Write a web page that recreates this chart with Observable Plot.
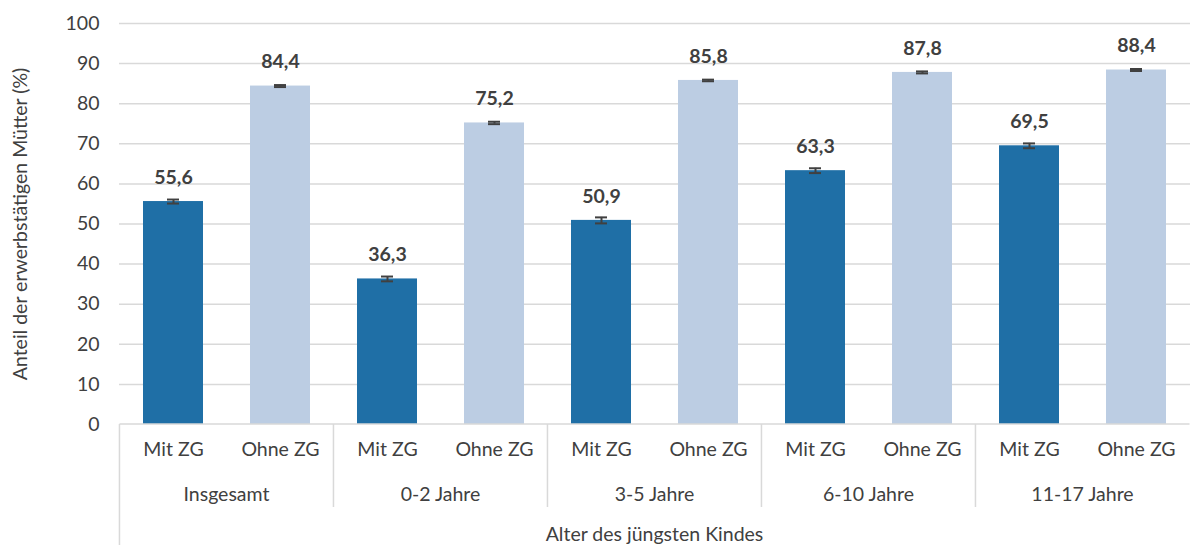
<!DOCTYPE html>
<html><head><meta charset="utf-8">
<script src="https://cdn.jsdelivr.net/npm/d3@7"></script>
<script src="https://cdn.jsdelivr.net/npm/@observablehq/plot@0.6"></script>
<style>
html,body{margin:0;padding:0;background:#fff;}
</style></head><body><div id="chart"></div>
<script>
const groups = ["Insgesamt", "0-2 Jahre", "3-5 Jahre", "6-10 Jahre", "11-17 Jahre"];
const series = ["Mit ZG", "Ohne ZG"];
const mitValues = [55.6, 36.3, 50.9, 63.3, 69.5];
const ohneValues = [84.4, 75.2, 85.8, 87.8, 88.4];
const mitErrors = [0.5, 0.6, 0.75, 0.6, 0.6];
const ohneErrors = [0.25, 0.3, 0.2, 0.25, 0.25];
const yTicks = [0, 10, 20, 30, 40, 50, 60, 70, 80, 90, 100];
const xTitle = "Alter des jüngsten Kindes";
const yTitle = "Anteil der erwerbstätigen Mütter (%)";
const colors = ["#1f6fa6", "#bccde3"];

const rows = [];
groups.forEach((g, i) => {
  rows.push({group: g, series: series[0], key: g + "|" + series[0], value: mitValues[i], err: mitErrors[i]});
  rows.push({group: g, series: series[1], key: g + "|" + series[1], value: ohneValues[i], err: ohneErrors[i]});
});
const keys = rows.map(d => d.key);
const fmt = v => v.toFixed(1).replace(".", ",");
const textColor = "#404040";
const gridColor = "#d9d9d9";

function groupAxis(index, scales) {
  const x = scales.x, y = scales.y;
  const step = x.step(), bw = x.bandwidth(), half = step * x.paddingInner() / 2;
  const y0 = y(0);
  const g = d3.create("svg:g");
  const left = x(keys[0]) - half;
  const right = x(keys[keys.length - 1]) + bw + half;
  g.append("line").attr("x1", left).attr("x2", right).attr("y1", y0).attr("y2", y0)
    .attr("stroke", gridColor).attr("stroke-width", 1.5);
  groups.forEach((gr, i) => {
    const gl = x(gr + "|" + series[0]) - half;
    const gr2 = x(gr + "|" + series[1]) + bw + half;
    g.append("line").attr("x1", gl).attr("x2", gl).attr("y1", y0)
      .attr("y2", i === 0 ? y0 + 125 : y0 + 83)
      .attr("stroke", gridColor).attr("stroke-width", 1.5);
    g.append("text").attr("x", (gl + gr2) / 2).attr("y", y0 + 69)
      .attr("text-anchor", "middle").attr("dominant-baseline", "central")
      .attr("fill", textColor).text(gr);
  });
  g.append("text").attr("x", (left + right) / 2).attr("y", y0 + 109)
    .attr("text-anchor", "middle").attr("dominant-baseline", "central")
    .attr("fill", textColor).text(xTitle);
  return g.node();
}

const chart = Plot.plot({
  width: 1190,
  height: 545,
  marginLeft: 119,
  marginRight: 0,
  marginTop: 23,
  marginBottom: 121,
  style: {fontFamily: "Lato, sans-serif", fontSize: "19.5px", color: textColor, background: "#fff"},
  x: {domain: keys, paddingInner: 0.44, paddingOuter: 0.22, axis: null},
  y: {domain: [0, 100], axis: null},
  color: {domain: series, range: colors},
  marks: [
    Plot.ruleY(yTicks.filter(d => d > 0), {stroke: gridColor, strokeWidth: 1.5}),
    Plot.barY(rows, {x: "key", y: "value", fill: "series"}),
    Plot.ruleX(rows, {x: "key", y1: d => d.value - d.err, y2: d => d.value + d.err, stroke: textColor, strokeWidth: 2}),
    Plot.tickY(rows, {x: "key", y: d => d.value - d.err, stroke: textColor, strokeWidth: 2, inset: 24}),
    Plot.tickY(rows, {x: "key", y: d => d.value + d.err, stroke: textColor, strokeWidth: 2, inset: 24}),
    Plot.text(rows, {x: "key", y: "value", text: d => fmt(d.value), dy: -24, fontWeight: "bold", fontSize: 19.5, fill: textColor}),
    Plot.axisX({tickSize: 0, tickPadding: 18, tickFormat: k => k.split("|")[1], label: null, fontSize: 19.5}),
    Plot.axisY(yTicks, {tickSize: 0, tickPadding: 20, label: yTitle, labelAnchor: "center", labelOffset: 106, labelArrow: false, fontSize: 19.5}),
    groupAxis
  ]
});
document.getElementById("chart").appendChild(chart);
</script>
</body></html>
